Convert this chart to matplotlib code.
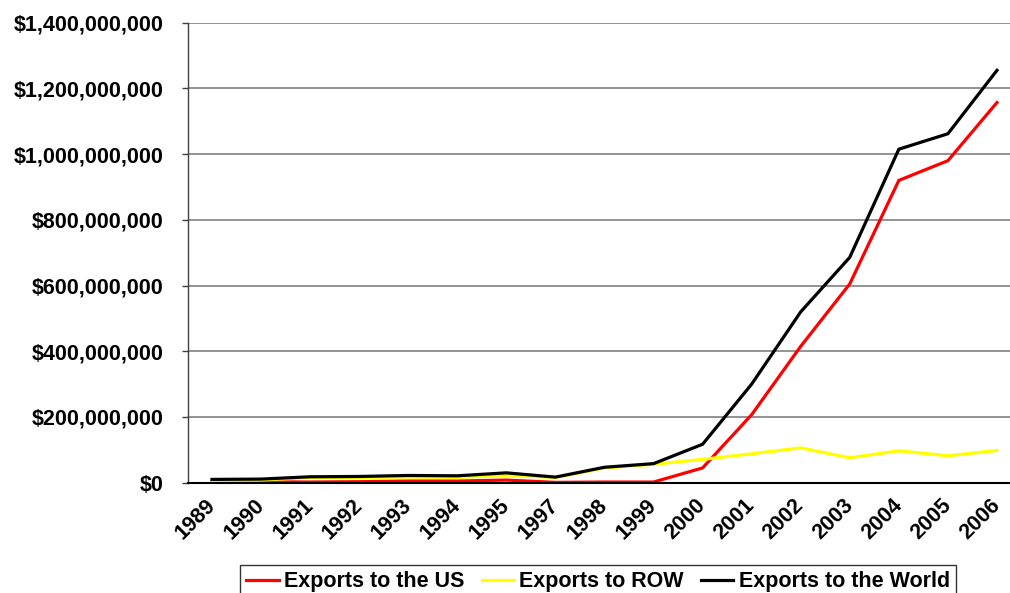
#!/usr/bin/env python3
"""
Exports to the US / ROW / World, 1989-2006 (line chart)
"""

import matplotlib
matplotlib.use('Agg')
import matplotlib.pyplot as plt
from matplotlib.ticker import FuncFormatter, FixedLocator

years = ['1989', '1990', '1991', '1992', '1993', '1994', '1995', '1997', '1998',
         '1999', '2000', '2001', '2002', '2003', '2004', '2005', '2006']

# values in US dollars
exports_us = [3e6, 3e6, 2e6, 3e6, 5e6, 5e6, 8e6, 1e6, 2e6,
              2e6, 45e6, 207e6, 415e6, 605e6, 920e6, 980e6, 1157e6]
exports_row = [7e6, 8e6, 16e6, 16e6, 17e6, 16e6, 22e6, 16e6, 45e6,
               56e6, 71e6, 88e6, 106e6, 76e6, 97e6, 82e6, 98e6]
exports_world = [10e6, 11e6, 18e6, 19e6, 22e6, 21e6, 30e6, 17e6, 47e6,
                 58e6, 117e6, 300e6, 520e6, 686e6, 1015e6, 1062e6, 1255e6]

y_ticks = [0, 200e6, 400e6, 600e6, 800e6, 1000e6, 1200e6, 1400e6]

plt.rcParams['font.family'] = ['Liberation Sans', 'DejaVu Sans']
plt.rcParams['font.weight'] = 'bold'

W, H = 1010, 593
fig = plt.figure(figsize=(W / 100, H / 100), dpi=100)
ax_left, ax_right, ax_top, ax_bottom = 188, 1010, 22.7, 482.7
ax = fig.add_axes([ax_left / W, 1 - ax_bottom / H, (ax_right - ax_left) / W, (ax_bottom - ax_top) / H])

x = list(range(len(years)))
ax.plot(x, exports_us, color='#FF0000', linewidth=2.3, label='Exports to the US', solid_joinstyle='miter')
ax.plot(x, exports_row, color='#FFFF00', linewidth=2.3, label='Exports to ROW', solid_joinstyle='miter')
ax.plot(x, exports_world, color='#000000', linewidth=2.3, label='Exports to the World', solid_joinstyle='miter')

# category spacing ~49 px, first point 24 px right of the axis
step = 49.06
xmin = -(212 - ax_left) / step
ax.set_xlim(xmin, xmin + (ax_right - ax_left) / step)
ax.set_ylim(0, 1.4e9)

ax.yaxis.set_major_locator(FixedLocator(y_ticks))
ax.yaxis.set_major_formatter(FuncFormatter(lambda v, p: f'${v:,.0f}'))
ax.grid(axis='y', color='#808080', linewidth=1.2)
ax.set_axisbelow(True)

ax.set_xticks(x)
ax.set_xticklabels(years, rotation=45, ha='right', va='center', rotation_mode='anchor')
ax.tick_params(axis='x', length=0, pad=14, labelsize=15.5)
ax.tick_params(axis='y', length=4.5, width=1, pad=13, labelsize=15.5, color='#404040', direction='out')

for side in ['top', 'right']:
    ax.spines[side].set_visible(False)
ax.spines['left'].set_color('#404040')
ax.spines['left'].set_linewidth(1.0)
ax.spines['bottom'].set_color('#000000')
ax.spines['bottom'].set_linewidth(1.5)

leg = fig.legend(loc='upper center', bbox_to_anchor=(598 / W, 1 - 565 / H), ncol=3,
                 fontsize=15.5, frameon=True, fancybox=False, handlelength=1.5,
                 handletextpad=0.25, columnspacing=0.8, borderpad=0.3, borderaxespad=0)
leg.get_frame().set_edgecolor('#000000')
leg.get_frame().set_linewidth(1.0)

fig.savefig('out.png', dpi=100)
